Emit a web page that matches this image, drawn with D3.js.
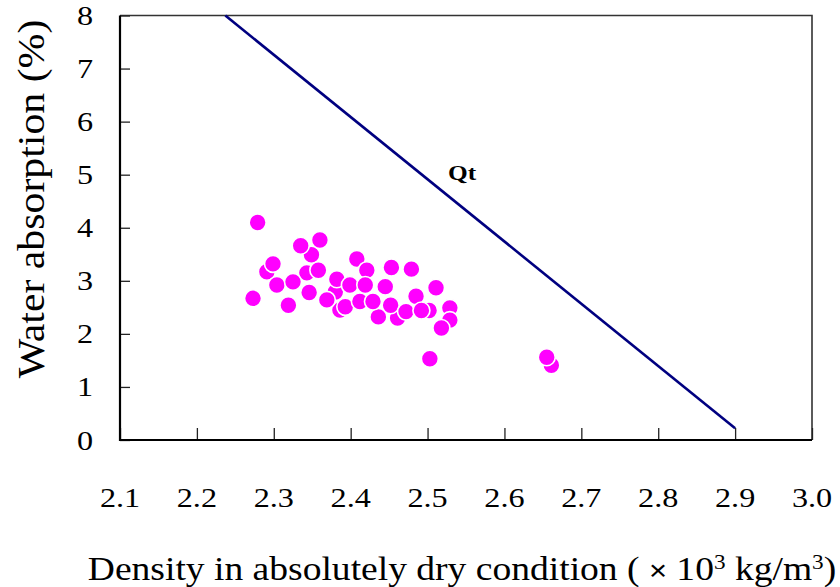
<!DOCTYPE html>
<html>
<head>
<meta charset="utf-8">
<script src="https://cdn.jsdelivr.net/npm/d3@7/dist/d3.min.js"></script>
<style>
  html, body { margin: 0; padding: 0; background: #fff; }
  svg { display: block; }
</style>
</head>
<body>
<svg id="chart" width="840" height="587"></svg>
<script>
// Data
const density = [2.291, 2.349, 2.304, 2.386, 2.380, 2.382, 2.343, 2.358, 2.279, 2.360, 2.335,
  2.299, 2.408, 2.421, 2.325, 2.399, 2.419, 2.346, 2.273, 2.369, 2.393, 2.319, 2.412,
  2.461, 2.436, 2.453, 2.479, 2.445, 2.429, 2.485, 2.511, 2.452, 2.472, 2.502, 2.492,
  2.529, 2.529, 2.518, 2.503, 2.661, 2.655];
const absorption = [3.17, 3.49, 2.92, 2.45, 2.79, 3.03, 3.15, 3.20, 4.10, 3.77, 3.66,
  3.32, 3.41, 3.20, 2.98, 2.92, 2.92, 2.78, 2.67, 2.64, 2.51, 2.54, 2.61,
  2.30, 2.32, 3.25, 3.22, 2.89, 2.61, 2.71, 2.87, 2.54, 2.42, 2.44, 2.44,
  2.49, 2.26, 2.11, 1.53, 1.41, 1.56];
const qtDensity = [2.237, 2.900];
const qtAbsorption = [8.0, 0.22];
const qtLabel = "Qt";
const xTicks = [2.1, 2.2, 2.3, 2.4, 2.5, 2.6, 2.7, 2.8, 2.9, 3.0];
const yTicks = [0, 1, 2, 3, 4, 5, 6, 7, 8];
const xTitle = "Density in absolutely dry condition";
const yTitle = "Water absorption (%)";

const svg = d3.select("#chart");
const L = 120, R = 812, T = 15.5, B = 440;
const x = d3.scaleLinear().domain([2.1, 3.0]).range([L, R]);
const y = d3.scaleLinear().domain([0, 8]).range([B, T]);
const serif = "'Liberation Serif','Times New Roman',serif";
const SX = 1.15; // horizontal stretch of the reference text

// frame top/right
svg.append("path")
  .attr("d", `M${L},${T}H${R}V${B}`)
  .attr("fill", "none").attr("stroke", "#333").attr("stroke-width", 1.6);

// axes with inward ticks
const xAxis = svg.append("g").attr("transform", `translate(0,${B})`)
  .call(d3.axisTop(x).tickValues(xTicks).tickSize(12).tickFormat(() => ""));
xAxis.select(".domain").remove();
xAxis.selectAll(".tick line").attr("stroke", "#222").attr("stroke-width", 1.3);

const yAxis = svg.append("g").attr("transform", `translate(${L},0)`)
  .call(d3.axisRight(y).tickValues(yTicks).tickSize(10).tickFormat(() => ""));
yAxis.select(".domain").remove();
yAxis.selectAll(".tick line").attr("stroke", "#222").attr("stroke-width", 1.3);

svg.append("path").attr("d", `M${L},${T}V${B}H${R}`)
  .attr("fill", "none").attr("stroke", "#000").attr("stroke-width", 2.2);

// tick labels
svg.append("g").selectAll("text").data(xTicks).join("text")
  .attr("transform", d => `translate(${x(d)},507) scale(${SX},1)`)
  .attr("text-anchor", "middle")
  .style("font-family", serif).style("font-size", "28px")
  .text(d => d3.format(".1f")(d));
svg.append("g").selectAll("text").data(yTicks).join("text")
  .attr("transform", d => `translate(93,${y(d) + 9.5}) scale(${SX},1)`)
  .attr("text-anchor", "end")
  .style("font-family", serif).style("font-size", "28px")
  .text(d => String(d));

// Qt line
svg.append("line")
  .attr("x1", x(qtDensity[0])).attr("y1", y(qtAbsorption[0]))
  .attr("x2", x(qtDensity[1])).attr("y2", y(qtAbsorption[1]))
  .attr("stroke", "#000080").attr("stroke-width", 2.6);
svg.append("text")
  .attr("transform", `translate(448,180) scale(${SX},1)`)
  .style("font-family", serif).style("font-weight", "bold").style("font-size", "22px")
  .text(qtLabel);

// points
svg.append("g").selectAll("circle").data(density.map((d, i) => [d, absorption[i]])).join("circle")
  .attr("cx", d => x(d[0])).attr("cy", d => y(d[1])).attr("r", 8.5)
  .attr("fill", "#ff00ff").attr("stroke", "#fff").attr("stroke-width", 1.6);

// axis titles
svg.append("text")
  .attr("transform", "translate(44,199) rotate(-90) scale(1.1,1)")
  .attr("text-anchor", "middle")
  .style("font-family", serif).style("font-size", "38px")
  .text(yTitle);

const xt = svg.append("text")
  .attr("transform", `translate(462,580) scale(1.105,1)`)
  .attr("text-anchor", "middle")
  .style("font-family", serif).style("font-size", "34px");
xt.append("tspan").text(xTitle + " ( ");
xt.append("tspan").style("font-family", "'Liberation Sans',Arial,sans-serif").style("font-size", "28px").text("×");
xt.append("tspan").text(" 10");
xt.append("tspan").style("font-size", "21px").attr("dy", -11).text("3");
xt.append("tspan").attr("dy", 11).text(" kg/m");
xt.append("tspan").style("font-size", "21px").attr("dy", -11).text("3");
xt.append("tspan").attr("dy", 11).text(")");
</script>
</body>
</html>
